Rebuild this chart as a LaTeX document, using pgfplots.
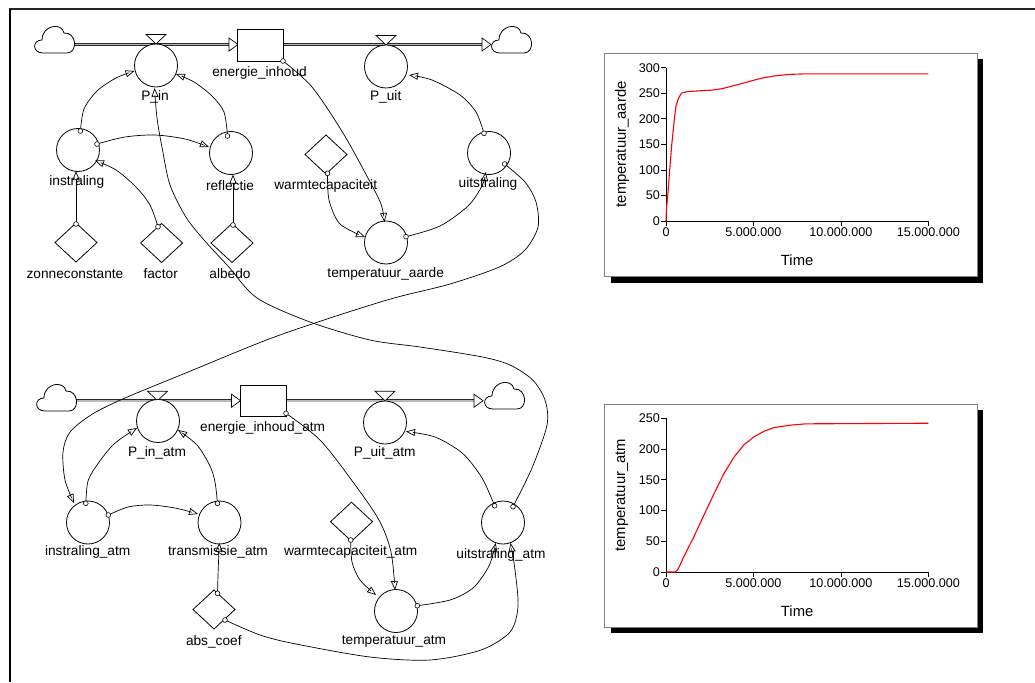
\documentclass[border=0pt]{standalone}
\usepackage{fontspec}
\setmainfont{Liberation Sans}
\usepackage{pgfplots}
\pgfplotsset{compat=1.18}
\usetikzlibrary{arrows.meta}

\tikzset{
  lbl/.style={font=\fontsize{13.7}{16}\selectfont, inner sep=0pt, anchor=center},
  var/.style={draw, line width=0.8pt, fill=white},
  link/.style={line width=0.7pt, -{Triangle[open,length=9pt,width=7pt]}},
  pipe/.style={draw=black!85, line width=0.6pt, double=gray!55, double distance=1.6pt},
}
\newcommand{\aux}[2]{\draw[var] (#1,#2) circle (21.5pt);}
\newcommand{\const}[2]{\draw[var] (#1-21,#2) -- (#1,#2-19.5) -- (#1+21,#2) -- (#1,#2+19.5) -- cycle;}
\newcommand{\org}[2]{\draw[line width=0.6pt,fill=white] (#1,#2) circle (2.4pt);}
\newcommand{\valve}[2]{\draw[line width=0.7pt,fill=white] (#1-10,#2-9.5) -- (#1+10,#2-9.5) -- (#1,#2) -- cycle;}
\newcommand{\pipetip}[2]{\draw[line width=0.7pt,fill=white] (#1-9,#2-6.5) -- (#1,#2) -- (#1-9,#2+6.5) -- cycle;}
\newcommand{\cloud}[2]{\begin{scope}[shift={(#1,#2)}]
  \draw[line width=0.8pt, fill=white] (-11,12) .. controls (-22,12) and (-22,-1) .. (-12,-1)
    .. controls (-12,-16) and (8,-19) .. (10,-8)
    .. controls (23,-9) and (24,12) .. (13,12) -- cycle;
  \end{scope}}

\pgfplotsset{
  plotstyle/.style={
    scale only axis, width=262.3pt,
    xmin=0, xmax=15000000, ymin=0, enlargelimits=false,
    axis lines=left, axis line style={-, line width=0.7pt},
    xtick={0,5000000,10000000,15000000},
    xticklabels={0,5.000.000,10.000.000,15.000.000},
    scaled x ticks=false, scaled y ticks=false,
    ytick distance=50,
    tick style={black, line width=0.7pt}, major tick length=5pt, tick align=outside,
    ticklabel style={font=\fontsize{12.6}{14}\selectfont, inner sep=1pt},
    /pgf/number format/assume math mode=true,
    label style={font=\fontsize{14.8}{17}\selectfont},
    xlabel={Time},
    xlabel style={at={(axis description cs:0.5,-0.254)}, anchor=center},
    ylabel style={at={(axis description cs:-0.168,0.5)}, anchor=center},
    clip=false,
  }
}

\begin{document}
\begin{tikzpicture}
\begin{scope}[x=1pt,y=-1pt]
\path (0,0) rectangle (1035,682);
% outer frame
\draw[black!85, line width=1.6pt] (9,9) -- (1035,9);
\draw[black, line width=1.8pt] (10,9) -- (10,682);

% plot frames with shadow
\fill[black] (611,59) rectangle (983,283);
\filldraw[fill=white, draw=gray, line width=0.7pt] (604,53) rectangle (977,276);
\fill[black] (611,410) rectangle (983,633);
\filldraw[fill=white, draw=gray, line width=0.7pt] (604,404) rectangle (977,627);

% ---------- earth ----------
\draw[pipe] (73,44.5) -- (230,44.5);
\draw[pipe] (283.2,44.5) -- (483,44.5);
\pipetip{238}{44.5}
\pipetip{491}{44.5}
\cloud{54}{41}
\cloud{511}{41}
\draw[var] (237.5,29) rectangle (283.2,61);
\valve{156}{44}
\valve{386}{45}
\aux{156}{65.5}
\aux{386}{66.5}
\aux{78}{150}
\aux{231}{153}
\aux{489}{153}
\aux{386}{242.5}
\const{326}{154.5}
\const{76}{242.5}
\const{161.6}{243}
\const{232}{243}

\draw[link] plot[smooth] coordinates {(80.4,131) (84,109) (97,91) (116,78) (134.5,71)};
\draw[link] plot[smooth] coordinates {(227.5,136) (224,112) (212,96) (194,82) (176,74)};
\draw[link] plot[smooth] coordinates {(97,144) (125,137) (155,135) (185,139) (209,147)};
\draw[link] (76,224) -- (76,171);
\draw[link] plot[smooth] coordinates {(158,226.7) (150,205) (136,187) (116,170) (95,160.5)};
\draw[link] (233,225) -- (233,174.5);
\draw[link] plot[smooth] coordinates {(283,61) (312,87) (343,133) (369,180) (381,204) (384.5,222)};
\draw[link] plot[smooth] coordinates {(327.5,173.3) (329,200) (340,224) (365,237)};
\draw[link] plot[smooth] coordinates {(406,236.7) (440,226) (468,206) (482,186) (485.7,172)};
\draw[link] plot[smooth] coordinates {(484,133.3) (476,112) (460,95) (432,80) (409,75)};

% ---------- atmosphere ----------
\draw[pipe] (76,400.7) -- (232,400.7);
\draw[pipe] (286,400.7) -- (475,400.7);
\pipetip{240.5}{400.7}
\pipetip{483}{400.7}
\cloud{56}{399}
\cloud{504}{397}
\draw[var] (240.5,385) rectangle (286,416);
\valve{157.5}{400.7}
\valve{385}{400.7}
\aux{158}{421}
\aux{385}{422.5}
\aux{88}{522.5}
\aux{219.5}{522.5}
\aux{503}{522.5}
\aux{396}{611}
\const{351.5}{521.7}
\const{214}{609.5}

\draw[link] plot[smooth] coordinates {(85.8,503.3) (88,481) (97,465) (114,444) (137,428)};
\draw[link] plot[smooth] coordinates {(217.5,503.3) (215,482) (210,466) (197,445) (178,430)};
\draw[link] plot[smooth] coordinates {(108.4,515) (128,507) (150,505) (175,508) (198,514)};
\draw[link] plot[smooth] coordinates {(217.5,593.3) (218.3,567) (219.4,543)};
\draw[link] plot[smooth] coordinates {(225,620) (260,635) (296,644) (370,657) (430,660) (481,650) (510,632) (518,606.7) (515,570) (510.5,543)};
\draw[link] plot[smooth] coordinates {(286,413.3) (320,440) (351.5,480) (379,520) (391,552) (395,590)};
\draw[link] plot[smooth] coordinates {(350.7,540) (352,562) (360,580) (376,595)};
\draw[link] plot[smooth] coordinates {(417.3,605.7) (450,600) (473,588) (489,566) (495.7,543)};
\draw[link] plot[smooth] coordinates {(494.6,505.7) (482,478) (462.5,453.3) (435,437) (406,431.5)};

% long links between the two parts
\draw[link] plot[smooth] coordinates {(504.6,164) (525,182) (536,202) (538,227) (525,250) (500,266.7) (450,284) (393,298.3) (330,318) (266.4,340) (185,373.3) (125,398) (92.5,414) (70,432) (63,452) (65,480) (74,503)};
\draw[link] plot[smooth] coordinates {(513,506.7) (532,468) (547,425) (545,400) (532.7,380) (510,365) (481,356.7) (420,347) (370,340) (310,322) (257,298) (228.6,266.7) (204,240) (185.7,216.7) (170,185) (162.5,150) (157,118) (154.5,88)};

% link origins
\org{80.4}{131} \org{227.5}{136} \org{97}{144} \org{76}{224} \org{158}{226.7}
\org{233}{225} \org{283}{61} \org{327.5}{173.3} \org{406}{236.7} \org{484}{133.3}
\org{504.6}{164}
\org{85.8}{503.3} \org{217.5}{503.3} \org{108.4}{515} \org{217.5}{593.3} \org{225}{620}
\org{286}{413.3} \org{350.7}{540} \org{417.3}{605.7} \org{494.6}{505.7} \org{513}{506.7}

% labels
\node[lbl] at (155,96.7) {P\_in};
\node[lbl] at (259.6,72.7) {energie\_inhoud};
\node[lbl] at (385.7,96.7) {P\_uit};
\node[lbl] at (76.8,181.7) {instraling};
\node[lbl] at (230,185.7) {reflectie};
\node[lbl] at (325.7,186) {warmtecapaciteit};
\node[lbl] at (488,184) {uitstraling};
\node[lbl] at (75,274) {zonneconstante};
\node[lbl] at (160.7,274) {factor};
\node[lbl] at (230,274) {albedo};
\node[lbl] at (385.7,274) {temperatuur\_aarde};

\node[lbl] at (157,452.7) {P\_in\_atm};
\node[lbl] at (262.7,428.3) {energie\_inhoud\_atm};
\node[lbl] at (384.7,453.3) {P\_uit\_atm};
\node[lbl] at (87.7,552.3) {instraling\_atm};
\node[lbl] at (218,552.3) {transmissie\_atm};
\node[lbl] at (350.7,552.3) {warmtecapaciteit\_atm};
\node[lbl] at (501,555) {uitstraling\_atm};
\node[lbl] at (213.8,641.7) {abs\_coef};
\node[lbl] at (394,641) {temperatuur\_atm};
\end{scope}

% ---------- plots ----------
\begin{axis}[plotstyle, at={(666pt,-221pt)}, anchor=south west,
  height=153.3pt, ymax=300, ylabel={temperatuur\_aarde}]
\addplot[red, line width=1.1pt] coordinates {
  (0,0) (30000,25) (100000,50) (210000,100) (330000,150) (480000,200)
  (570000,225) (710000,240) (880000,250) (1200000,253) (2000000,255)
  (2600000,256) (3200000,259) (3900000,265) (4650000,272) (5400000,279)
  (6200000,284) (7100000,287) (8000000,288) (15000000,288)};
\end{axis}

\begin{axis}[plotstyle, at={(666pt,-572pt)}, anchor=south west,
  height=153.7pt, ymax=250, ylabel={temperatuur\_atm}]
\addplot[red, line width=1.1pt] coordinates {
  (0,0) (540000,0) (700000,5) (1020000,25) (1590000,57) (2160000,92)
  (2740000,127) (3310000,160) (3890000,187) (4460000,207) (5040000,220)
  (5610000,229) (6190000,235) (7150000,239) (8000000,241) (15000000,242)};
\end{axis}

\pgfresetboundingbox
\path[use as bounding box] (0,0) rectangle (1035pt,-682pt);
\end{tikzpicture}
\end{document}
